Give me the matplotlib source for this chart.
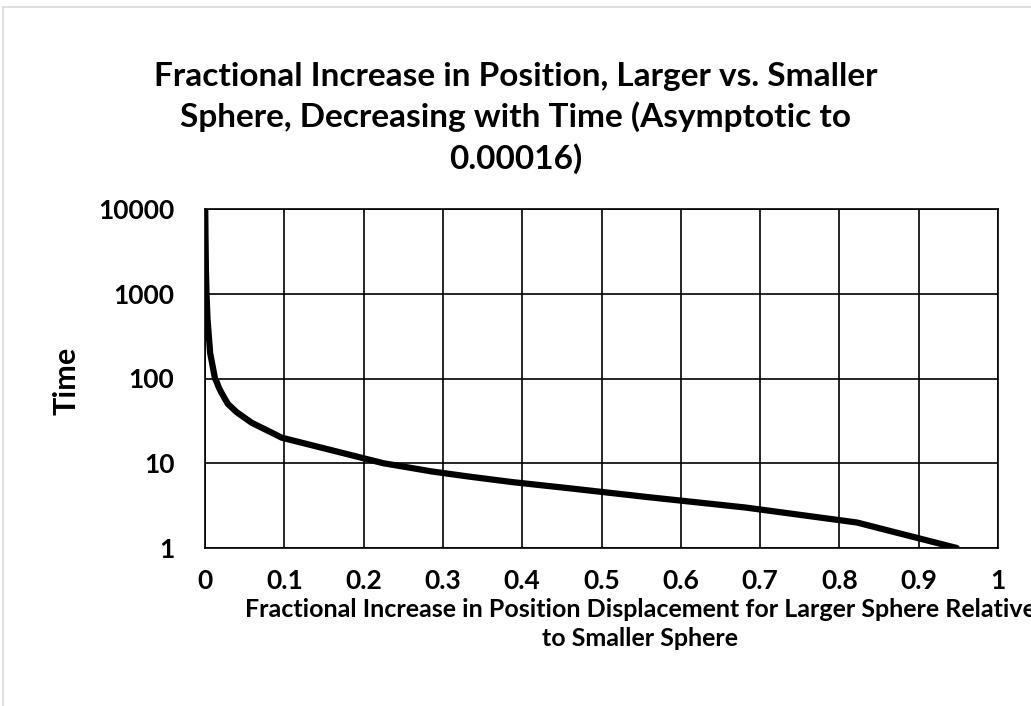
import matplotlib.pyplot as plt
from matplotlib.patches import Rectangle

# values
time = [1, 2, 3, 4, 5, 6, 7, 8, 9, 10,
        20, 30, 40, 50, 60, 70, 80, 90, 100,
        200, 500, 1000, 2000, 5000, 10000]
frac = [0.948, 0.822, 0.682, 0.557, 0.465, 0.387, 0.331, 0.286, 0.254, 0.225,
        0.097, 0.059, 0.040, 0.029, 0.024, 0.020, 0.017, 0.015, 0.0126,
        0.0065, 0.0032, 0.0019, 0.0011, 0.0006, 0.0003]
xticks = [0, 0.1, 0.2, 0.3, 0.4, 0.5, 0.6, 0.7, 0.8, 0.9, 1]
xlabels = ['0', '0.1', '0.2', '0.3', '0.4', '0.5', '0.6', '0.7', '0.8', '0.9', '1']
yticks = [1, 10, 100, 1000, 10000]
ylabels = ['1', '10', '100', '1000', '10000']

plt.rcParams['font.family'] = ['Lato', 'DejaVu Sans']
plt.rcParams['font.weight'] = 'bold'

W, H = 1031, 706
fig = plt.figure(figsize=(W/100, H/100), dpi=100)
ax = fig.add_axes([205/W, 1-548/H, (998-205)/W, (548-209)/H])

ax.plot(frac, time, color='black', lw=4.5, solid_capstyle='round', solid_joinstyle='round', zorder=3)

ax.set_yscale('log')
ax.set_xlim(0, 1)
ax.set_ylim(1, 10000)
ax.set_xticks(xticks)
ax.set_xticklabels(xlabels)
ax.set_yticks(yticks)
ax.set_yticklabels(ylabels)
ax.minorticks_off()
ax.tick_params(length=0, labelsize=19)
ax.tick_params(axis='x', pad=15)
ax.tick_params(axis='y', pad=22)
for lab in ax.get_xticklabels() + ax.get_yticklabels():
    lab.set_fontweight('bold')
ax.grid(True, color='black', lw=1.2)
for s in ax.spines.values():
    s.set_color('black')
    s.set_linewidth(1.2)

fig.text(516/W, 1-118/H,
         'Fractional Increase in Position, Larger vs. Smaller\nSphere, Decreasing with Time (Asymptotic to\n0.00016)',
         ha='center', va='center', fontsize=24, fontweight='bold', linespacing=1.42)
fig.text(640/W, 1-624/H,
         'Fractional Increase in Position Displacement for Larger Sphere Relative\nto Smaller Sphere',
         ha='center', va='center', fontsize=18, fontweight='bold', linespacing=1.3)
fig.text(66/W, 1-381/H, 'Time', rotation=90, ha='center', va='center',
         fontsize=22, fontweight='bold')

# light outer chart border
fig.patches.append(Rectangle((3/W, -0.1), 1.2, 1-7/H+0.1, transform=fig.transFigure,
                             fill=False, edgecolor='#d9d9d9', lw=1.2))

fig.savefig('out.png', dpi=100)
